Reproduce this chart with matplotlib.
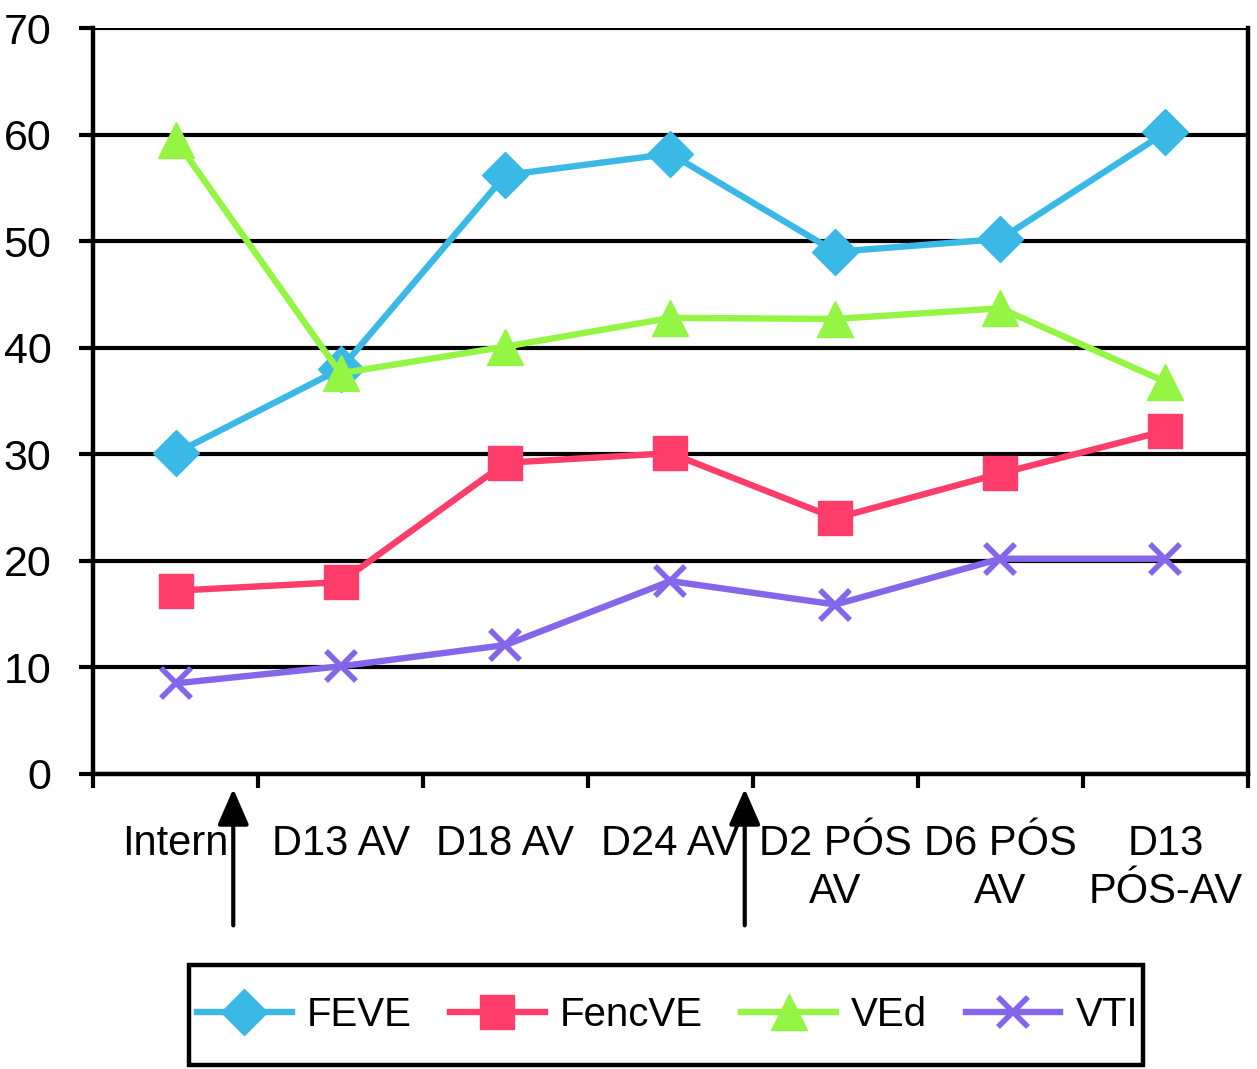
import matplotlib
matplotlib.use('Agg')
import matplotlib.pyplot as plt
from matplotlib.patches import Rectangle
import numpy as np

plt.rcParams['font.family'] = ['Liberation Sans', 'DejaVu Sans']

# data
categories = ['Intern', 'D13 AV', 'D18 AV', 'D24 AV', 'D2 PÓS\nAV', 'D6 PÓS\nAV', 'D13\nPÓS-AV']
feve = [30.1, 38.0, 56.2, 58.2, 49.0, 50.2, 60.2]
fencve = [17.2, 18.0, 29.2, 30.1, 24.0, 28.2, 32.2]
ved = [59.5, 37.6, 40.1, 42.8, 42.7, 43.7, 36.8]
vti = [8.5, 10.1, 12.1, 18.1, 15.9, 20.2, 20.2]
arrow_x = [0.35, 3.45]  # arrows below the axis, between categories

fig = plt.figure(figsize=(12.57, 10.69), dpi=100)
ax = fig.add_axes([0.074, 0.276, 0.9188, 0.6978])

x = np.arange(len(categories))
lw = 4.6
ax.plot(x, feve, color='#3BB9E6', lw=lw, marker='D', ms=23, label='FEVE')
ax.plot(x, fencve, color='#FF3D6A', lw=lw, marker='s', ms=24, label='FencVE')
ax.plot(x, ved, color='#94F545', lw=lw, marker='^', ms=26, label='VEd')
ax.plot(x, vti, color='#8466EA', lw=lw, marker='x', ms=22, mew=4, label='VTI')

ax.set_xlim(-0.5, len(categories) - 0.5)
ax.set_ylim(0, 70)
ax.set_yticks(np.arange(0, 71, 10))
ax.set_xticks(np.arange(len(categories) + 1) - 0.5, minor=False)
ax.set_xticklabels([])
ax.set_xticks(x, minor=True)
ax.set_xticklabels(categories, minor=True)
for lab in ax.get_xticklabels(minor=True):
    lab.set_linespacing(1.25)
ax.tick_params(axis='x', which='major', length=10, width=3, direction='out')
ax.tick_params(axis='x', which='minor', length=0, pad=36, labelsize=30)
ax.tick_params(axis='y', length=10, width=3, pad=20, labelsize=31)
ax.yaxis.grid(True, color='black', lw=3)
ax.set_axisbelow(True)
for sp in ax.spines.values():
    sp.set_linewidth(3.2)
ax.spines['top'].set_visible(False)

# arrows under the x axis
for ax_x in arrow_x:
    ax.annotate('', xy=(ax_x, -0.02), xytext=(ax_x, -0.203),
                xycoords=ax.get_xaxis_transform(), textcoords=ax.get_xaxis_transform(),
                arrowprops=dict(arrowstyle='-|>,head_length=1.1,head_width=0.48',
                                mutation_scale=20, color='black', lw=3,
                                shrinkA=0, shrinkB=0),
                annotation_clip=False)

# legend box drawn separately so its size matches
fig.patches.append(Rectangle((0.1504, 0.0037), 0.759, 0.0935, transform=fig.transFigure,
                             fill=False, edgecolor='black', lw=3.2))
fig.legend(loc='center', bbox_to_anchor=(0.531, 0.0505), ncol=4, fontsize=29,
           handlelength=2.35, handletextpad=0.38, columnspacing=0.95,
           borderpad=0.3, frameon=False)

fig.savefig('out.png', dpi=100)
